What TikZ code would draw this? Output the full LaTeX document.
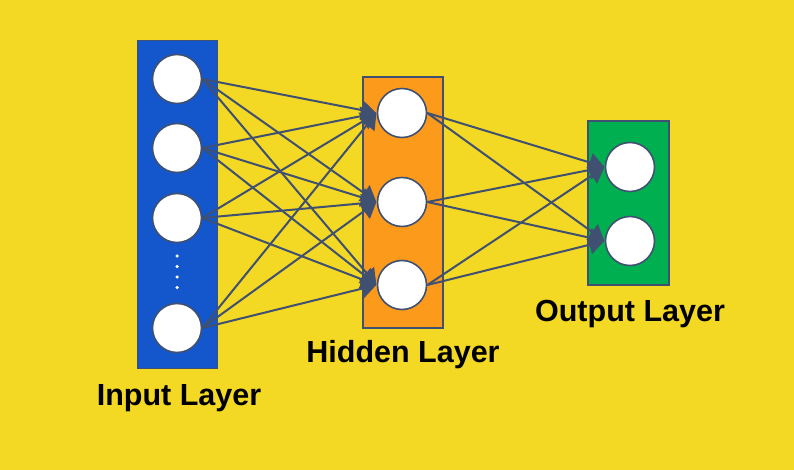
\documentclass[tikz,border=0pt]{standalone}
\usepackage{fontspec}
\setmainfont{Liberation Sans}
\usetikzlibrary{arrows.meta}
\definecolor{bg}{HTML}{F3D824}
\definecolor{inblue}{HTML}{1457CC}
\definecolor{hidorange}{HTML}{FC9A1C}
\definecolor{outgreen}{HTML}{00B050}
\definecolor{edge}{HTML}{3F5070}
\begin{document}
\begin{tikzpicture}[x=1pt,y=-1pt,
  layerbox/.style={draw=edge, line width=1.3pt, inner sep=0pt},
  neuron/.style={circle, draw=edge, line width=1.6pt, fill=white, minimum size=49pt, inner sep=0pt},
  conn/.style={draw=edge, line width=2pt, -{Triangle[length=15pt,width=19pt]}, shorten >=0.5pt},
  label/.style={font=\bfseries\fontsize{30.5}{34}\selectfont, text=black, inner sep=0pt},
  dotmark/.style={circle, fill=white, minimum size=3.5pt, inner sep=0pt}]
\fill[bg] (0,0) rectangle (794,470);
\useasboundingbox (0,0) rectangle (794,470);
% layer boxes
\node[layerbox, fill=inblue, minimum width=80pt, minimum height=328pt] (inbox) at (177.5,204.5) {};
\node[layerbox, fill=hidorange, minimum width=80pt, minimum height=251pt] (hidbox) at (403,202.5) {};
\node[layerbox, fill=outgreen, minimum width=81pt, minimum height=164pt] (outbox) at (628.5,203) {};
% neurons
\node[neuron] (i1) at (177,79) {};
\node[neuron] (i2) at (177,148) {};
\node[neuron] (i3) at (177,218) {};
\node[neuron] (i4) at (177,328) {};
\node[neuron] (h1) at (402,113) {};
\node[neuron] (h2) at (402,202) {};
\node[neuron] (h3) at (402,285) {};
\node[neuron] (o1) at (630,167) {};
\node[neuron] (o2) at (630,241) {};
% dots
\node[dotmark] (d1) at (177,256) {};
\node[dotmark] (d2) at (177,266.5) {};
\node[dotmark] (d3) at (177,277) {};
\node[dotmark] (d4) at (177,287.5) {};
% connections
\foreach \i in {i1,i2,i3,i4}
  \foreach \h in {h1,h2,h3}
    \draw[conn] (\i.east) -- (\h.west);
\foreach \h in {h1,h2,h3}
  \foreach \o in {o1,o2}
    \draw[conn] (\h.east) -- (\o.west);
% labels
\node[label] (lin) at (179,398) {Input Layer};
\node[label] (lhid) at (403,355) {Hidden Layer};
\node[label] (lout) at (630,314) {Output Layer};
\end{tikzpicture}
\end{document}
